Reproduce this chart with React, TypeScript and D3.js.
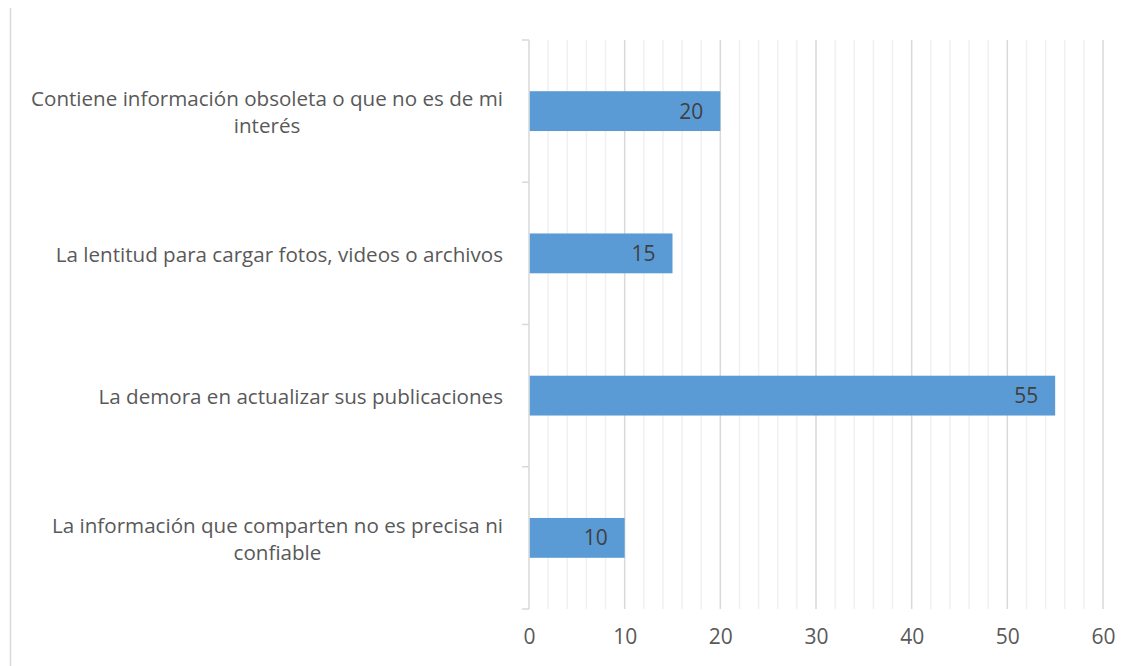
import React, { useEffect, useRef } from 'react';
import * as d3 from 'd3';

// categories, top to bottom
const categories = [
  'Contiene información obsoleta o que no es de mi interés',
  'La lentitud para cargar fotos, videos o archivos',
  'La demora en actualizar sus publicaciones',
  'La información que comparten no es precisa ni confiable',
];
const categoryLines = [
  ['Contiene información obsoleta o que no es de mi', 'interés'],
  ['La lentitud para cargar fotos, videos o archivos'],
  ['La demora en actualizar sus publicaciones'],
  ['La información que comparten no es precisa ni', 'confiable'],
];
const values = [20, 15, 55, 10];
const xTicks = [0, 10, 20, 30, 40, 50, 60];

const App = () => {
  const svgRef = useRef<SVGSVGElement>(null);

  useEffect(() => {
    const svg = d3.select(svgRef.current);
    svg.selectAll('*').remove();

    const width = 1134, height = 666;
    const left = 529, right = 1103, top = 40, bottom = 609;
    const font = '"Open Sans", sans-serif';

    svg.attr('width', width).attr('height', height);

    // outer chart border (only the left edge shows)
    svg.append('line')
      .attr('x1', 10.5).attr('x2', 10.5).attr('y1', 8).attr('y2', height)
      .attr('stroke', '#d9d9d9').attr('stroke-width', 1.5);

    var x = d3.scaleLinear().domain([0, 60]).range([left, right]);
    var y = d3.scaleBand().domain(categories).range([top, bottom]).paddingInner(0.72).paddingOuter(0.36);
    var band = d3.scaleBand().domain(categories).range([top, bottom]);

    // minor gridlines
    svg.append('g').selectAll('line')
      .data(d3.range(2, 61, 2).filter(v => v % 10 !== 0))
      .enter().append('line')
      .attr('x1', d => x(d)).attr('x2', d => x(d))
      .attr('y1', top).attr('y2', bottom)
      .attr('stroke', '#f0f0f0').attr('stroke-width', 1.5);

    // major gridlines
    svg.append('g').selectAll('line')
      .data(xTicks.slice(1))
      .enter().append('line')
      .attr('x1', d => x(d)).attr('x2', d => x(d))
      .attr('y1', top).attr('y2', bottom)
      .attr('stroke', '#d9d9d9').attr('stroke-width', 1.5);

    // y axis with ticks between categories
    svg.append('line')
      .attr('x1', left).attr('x2', left).attr('y1', top).attr('y2', bottom)
      .attr('stroke', '#d9d9d9').attr('stroke-width', 1.5);
    var boundaries = categories.map(c => band(c)!).concat([bottom]);
    svg.append('g').selectAll('line')
      .data(boundaries)
      .enter().append('line')
      .attr('x1', left - 7).attr('x2', left)
      .attr('y1', d => d).attr('y2', d => d)
      .attr('stroke', '#d9d9d9').attr('stroke-width', 1.5);

    // bars
    svg.append('g').selectAll('rect')
      .data(categories)
      .enter().append('rect')
      .attr('x', x(0) + 0.75)
      .attr('y', d => y(d)!)
      .attr('width', (d, i) => x(values[i]) - x(0) - 0.75)
      .attr('height', y.bandwidth())
      .attr('fill', '#5b9bd5');

    // value labels, inside end
    svg.append('g').selectAll('text')
      .data(categories)
      .enter().append('text')
      .attr('x', (d, i) => x(values[i]) - 17)
      .attr('y', d => y(d)! + y.bandwidth() / 2)
      .attr('dy', '0.36em')
      .attr('text-anchor', 'end')
      .attr('font-family', font)
      .attr('font-size', 21)
      .attr('fill', '#404040')
      .text((d, i) => values[i]);

    // category labels
    categoryLines.forEach((lines, i) => {
      var cy = band(categories[i])! + band.bandwidth() / 2;
      var g = svg.append('g');
      var texts = g.selectAll('text')
        .data(lines)
        .enter().append('text')
        .attr('y', (d, j) => cy + 1 + (j - (lines.length - 1) / 2) * 27)
        .attr('dy', '0.36em')
        .attr('text-anchor', 'middle')
        .attr('font-family', font)
        .attr('font-size', 20.6)
        .attr('fill', '#595959')
        .text(d => d);
      var maxW = d3.max(texts.nodes(), n => (n as SVGTextElement).getComputedTextLength()) || 0;
      texts.attr('x', 503 - maxW / 2);
    });

    // x axis tick labels
    var xAxis = svg.append('g')
      .attr('transform', `translate(0,${bottom})`)
      .call(d3.axisBottom(x).tickValues(xTicks).tickSize(0).tickPadding(20));
    xAxis.select('.domain').remove();
    xAxis.selectAll('text')
      .attr('font-family', font)
      .attr('font-size', 21)
      .attr('fill', '#595959');
  }, []);

  return (
    <div style={{ position: 'absolute', left: 0, top: 0, width: 1134, height: 666, background: '#fff' }}>
      <svg ref={svgRef} style={{ display: 'block' }} />
    </div>
  );
};

export default App;
